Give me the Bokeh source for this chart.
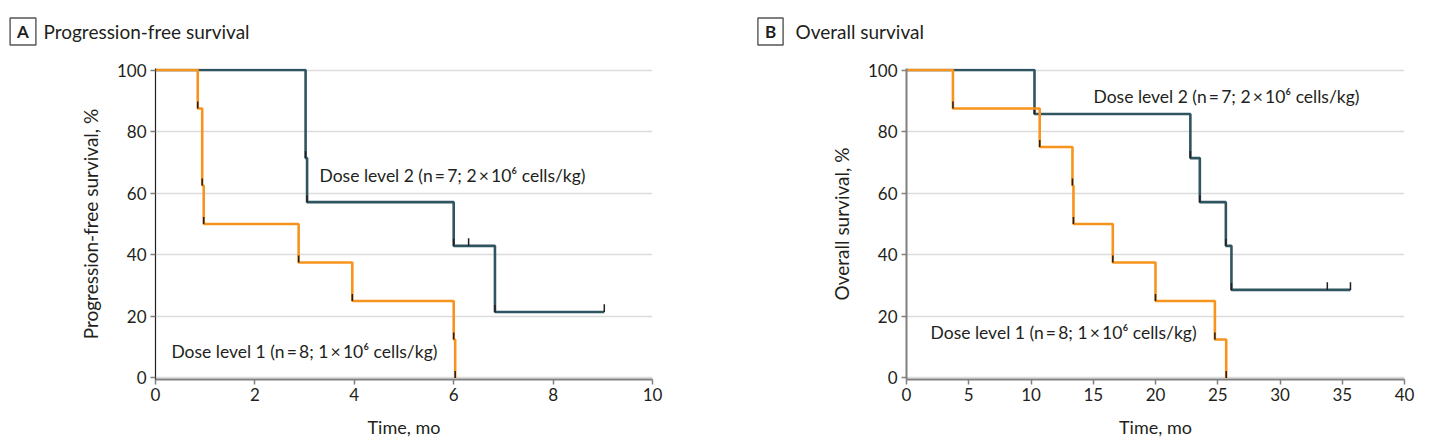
from bokeh.plotting import figure
from bokeh.models import Range1d, Label, FixedTicker
from bokeh.layouts import row, column
from bokeh.embed import file_html
from bokeh.resources import INLINE

# ---------------- data ----------------
# Panel A: progression-free survival (time in months, survival in %)
pfs_dl1_time = [0, 0.85, 0.94, 0.97, 2.88, 3.96, 6.00, 6.03]
pfs_dl1_surv = [100, 87.5, 62.5, 50.0, 37.5, 25.0, 12.5, 0.0]
pfs_dl2_time = [0, 3.02, 3.05, 6.00, 6.83]
pfs_dl2_surv = [100, 71.4, 57.1, 42.9, 21.4]
pfs_dl2_censor_time = [6.30, 9.03]
pfs_dl2_censor_surv = [42.9, 21.4]

# Panel B: overall survival
os_dl1_time = [0, 3.73, 10.70, 13.33, 13.41, 16.57, 20.0, 24.77, 25.68]
os_dl1_surv = [100, 87.5, 75.0, 62.5, 50.0, 37.5, 25.0, 12.5, 0.0]
os_dl2_time = [0, 10.28, 22.80, 23.56, 25.65, 26.10]
os_dl2_surv = [100, 85.7, 71.4, 57.1, 42.9, 28.6]
os_dl2_censor_time = [33.8, 35.66]
os_dl2_censor_surv = [28.6, 28.6]

y_ticks = [0, 20, 40, 60, 80, 100]
a_x_ticks = [0, 2, 4, 6, 8, 10]
b_x_ticks = [0, 5, 10, 15, 20, 25, 30, 35, 40]

panel_letters = ["A", "B"]
panel_titles = ["Progression-free survival", "Overall survival"]
label_dl2 = "Dose level 2 (n\u2009=\u20097; 2\u2009\u00d7\u200910\u2076 cells/kg)"
label_dl1 = "Dose level 1 (n\u2009=\u20098; 1\u2009\u00d7\u200910\u2076 cells/kg)"

# ---------------- style ----------------
FONT = "Lato"
TXT = "#231f20"
ORANGE = "#F7941D"
TEAL = "#2F5560"
FRAME_H = 311
Y0, Y1 = -0.5, 100.5
TICK_PX = 7
HEADER_H = 50
TOTAL_W = 1429


def km_path(times, survs, end_time=None):
    xs, ys = [times[0]], [survs[0]]
    for t, s in zip(times[1:], survs[1:]):
        xs += [t, t]
        ys += [ys[-1], s]
    if end_time is not None and end_time > xs[-1]:
        xs.append(end_time)
        ys.append(ys[-1])
    return xs, ys


def make_fig(xmax, xticks, ylabel, fw, left, right):
    p = figure(frame_width=fw, frame_height=FRAME_H,
               x_range=Range1d(0, xmax), y_range=Range1d(Y0, Y1),
               min_border_left=left, min_border_right=right,
               min_border_top=18, min_border_bottom=60,
               output_backend="svg", toolbar_location=None)
    p.outline_line_color = None
    p.xgrid.visible = False
    p.ygrid.grid_line_color = "#dcdcdc"
    p.ygrid.grid_line_width = 1.5
    p.xaxis.ticker = FixedTicker(ticks=xticks)
    p.yaxis.ticker = FixedTicker(ticks=y_ticks)
    p.xaxis.axis_label = "Time, mo"
    p.yaxis.axis_label = ylabel
    for ax in (p.xaxis[0], p.yaxis[0]):
        ax.axis_line_color = "#808080"
        ax.axis_line_width = 2
        ax.major_tick_line_color = "#808080"
        ax.major_tick_line_width = 1.5
        ax.major_tick_in = 0
        ax.major_tick_out = 5
        ax.minor_tick_line_color = None
        ax.major_label_text_font = FONT
        ax.major_label_text_font_size = "17px"
        ax.major_label_text_color = TXT
        ax.axis_label_text_font = FONT
        ax.axis_label_text_font_size = "18px"
        ax.axis_label_text_font_style = "normal"
        ax.axis_label_text_color = TXT
    p.yaxis.axis_label_text_font_size = "19px"
    p.xaxis.major_label_standoff = 3
    p.xaxis.axis_label_standoff = 12
    p.yaxis.major_label_standoff = 4
    p.yaxis.axis_label_standoff = 12
    return p


def draw_km(p, times, survs, color, ctimes=None, csurvs=None):
    end = max(ctimes) if ctimes else None
    xs, ys = km_path(times, survs, end)
    p.line(xs, ys, line_color=color, line_width=2.6)
    dy = TICK_PX * (Y1 - Y0) / FRAME_H
    et, es = times[1:], survs[1:]
    p.segment(x0=et, y0=es, x1=et, y1=[s + dy for s in es],
              line_color=TXT, line_width=1.5)
    if ctimes:
        p.segment(x0=ctimes, y0=csurvs, x1=ctimes,
                  y1=[s + dy * 1.1 for s in csurvs],
                  line_color=TXT, line_width=1.5)


def add_label(p, x, y, text, size="17px", align="left", bold=False, box=False):
    kw = {}
    if box:
        kw = dict(border_line_color="#555555", border_line_width=1.4,
                  background_fill_color="white", padding=(7, 3))
    p.add_layout(Label(x=x, y=y, text=text, text_font=FONT,
                       text_font_size=size, text_color=TXT,
                       text_align=align, text_baseline="middle",
                       text_font_style="bold" if bold else "normal", **kw))


# ---------------- header with panel titles ----------------
hdr = figure(width=TOTAL_W, height=HEADER_H,
             x_range=Range1d(0, TOTAL_W), y_range=Range1d(0, HEADER_H),
             min_border=0, output_backend="svg", toolbar_location=None)
hdr.axis.visible = False
hdr.grid.visible = False
hdr.outline_line_color = None
for letter, title, bx, tx in zip(panel_letters, panel_titles, [22.5, 770], [43, 795]):
    add_label(hdr, bx, HEADER_H - 31, letter, size="17px", align="center", bold=True, box=True)
    add_label(hdr, tx, HEADER_H - 31, title, size="19px")

# ---------------- panel A ----------------
pa = make_fig(10, a_x_ticks, "Progression-free survival, %", 497, 155, 88)
pa.yaxis.axis_line_color = "#231f20"
pa.yaxis.axis_line_width = 1.2
draw_km(pa, pfs_dl2_time, pfs_dl2_surv, TEAL, pfs_dl2_censor_time, pfs_dl2_censor_surv)
draw_km(pa, pfs_dl1_time, pfs_dl1_surv, ORANGE)
add_label(pa, 3.30, 65.8, label_dl2, size="17.5px")
add_label(pa, 0.32, 8.6, label_dl1, size="17.5px")

# ---------------- panel B ----------------
pb = make_fig(40, b_x_ticks, "Overall survival, %", 498, 166, 25)
draw_km(pb, os_dl2_time, os_dl2_surv, TEAL, os_dl2_censor_time, os_dl2_censor_surv)
draw_km(pb, os_dl1_time, os_dl1_surv, ORANGE)
add_label(pb, 15.02, 91.4, label_dl2, size="17.5px")
add_label(pb, 1.93, 14.8, label_dl1, size="17.5px")

layout = column(hdr, row(pa, pb))
open("out.html", "w").write(file_html(layout, INLINE))
